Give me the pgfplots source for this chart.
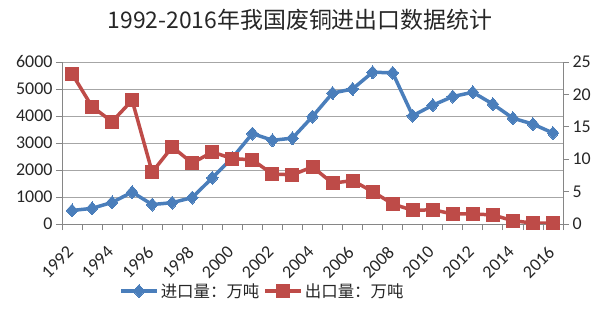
\documentclass[border=0pt]{standalone}
\usepackage{fontspec}
\setmainfont{Carlito}
\newfontfamily\cjk{Noto Sans CJK SC}
\usepackage{pgfplots}
\usepackage{pgfplotstable}
\pgfplotsset{compat=1.18}
\definecolor{blueS}{HTML}{4A7EBB}
\definecolor{redS}{HTML}{BE4B48}
\definecolor{gridc}{HTML}{A6A6A6}
\definecolor{axc}{HTML}{868686}
\pgfplotstableread{
x year imp exp
0 1992 500 23.2
1 1993 580 18.1
2 1994 800 15.8
3 1995 1180 19.1
4 1996 720 8.0
5 1997 790 11.9
6 1998 980 9.4
7 1999 1710 11.1
8 2000 2450 10.1
9 2001 3350 9.9
10 2002 3100 7.7
11 2003 3180 7.6
12 2004 3980 8.8
13 2005 4850 6.3
14 2006 5000 6.7
15 2007 5620 5.0
16 2008 5600 3.1
17 2009 4010 2.1
18 2010 4400 2.2
19 2011 4720 1.55
20 2012 4880 1.55
21 2013 4440 1.4
22 2014 3920 0.5
23 2015 3700 0.15
24 2016 3370 0.15
}\data
\pgfplotsset{
  common/.style={
    at={(62bp,112bp)}, anchor=south west, scale only axis,
    width=501bp, height=162bp,
    xmin=-0.5, xmax=24.5,
    tick align=outside,
    major tick length=6bp, minor tick length=6bp,
    axis line style={axc, line width=0.8pt},
    tick style={axc, line width=0.8pt},
    ticklabel style={font=\fontsize{18}{20}\selectfont, text=black!85},
    /pgf/number format/assume math mode=true,
    /pgf/number format/1000 sep={},
  }
}
\begin{document}
\begin{tikzpicture}
\useasboundingbox (0,0) rectangle (600bp,336bp);
\node[font=\cjk\fontsize{23}{26}\selectfont, text=black!85] at (300bp,316bp) {1992-2016年我国废铜进出口数据统计};
\begin{axis}[common,
  ymin=0, ymax=6000, ytick={0,1000,...,6000},
  axis x line*=bottom, axis y line*=left,
  ymajorgrids, grid style={gridc, line width=0.8pt},
  xtick={0,2,...,24},
  xticklabels={1992,1994,1996,1998,2000,2002,2004,2006,2008,2010,2012,2014,2016},
  major x tick style={draw=none},
  minor xtick={-0.5,0.5,...,24.5},
  x tick label style={xshift=-6bp, yshift=-12bp, rotate=45, anchor=north east, inner sep=2bp},
  legend columns=2,
  legend style={draw=none, fill=none, at={(0.4,-0.414)}, anchor=center,
    font=\cjk\fontsize{16.5}{18}\selectfont, text=black!85,
    /tikz/every even column/.append style={column sep=2bp}},
  legend image code/.code={\draw[mark repeat=2, mark phase=2] plot coordinates {(0bp,0bp) (18bp,0bp) (36bp,0bp)};},
]
\addplot[blueS, line width=3.5bp, mark=diamond*, mark size=6.5bp,
  mark options={solid, fill=blueS, line width=0pt, xscale=1.2}] table[x=x, y=imp] {\data};
\addlegendentry{进口量：万吨}
\addlegendimage{redS, line width=3.5bp, mark=square*, mark size=6.5bp, mark options={solid, fill=redS, line width=0pt}}
\addlegendentry{出口量：万吨}
\end{axis}
\begin{axis}[common,
  ymin=0, ymax=25, ytick={0,5,...,25},
  axis x line=none, axis y line*=right,
]
\addplot[redS, line width=3.5bp, mark=square*, mark size=6.5bp,
  mark options={solid, fill=redS, line width=0pt}] table[x=x, y=exp] {\data};
\end{axis}
\end{tikzpicture}
\end{document}
